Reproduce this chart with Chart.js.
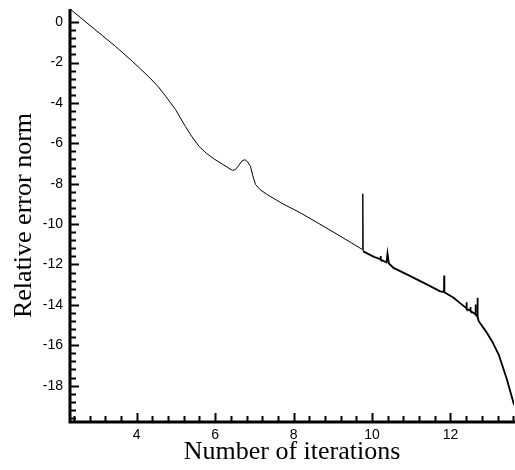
<!DOCTYPE html>
<html>
<head>
<meta charset="utf-8">
<script src="https://cdn.jsdelivr.net/npm/chart.js@4.4.1/dist/chart.umd.min.js"></script>
<style>
  body { margin: 0; background: #fff; }
  #wrap { width: 515px; height: 470px; position: relative; }
</style>
</head>
<body>
<div id="wrap"><canvas id="chart"></canvas></div>
<script>
// residual history
let iterations = [2.32, 3.04, 3.46, 3.89, 4.31, 4.55, 4.74, 4.99, 5.24, 5.40, 5.59, 5.78, 5.97, 6.20,
    6.44, 6.52, 6.60, 6.68, 6.76, 6.83, 6.90, 6.96, 7.03, 7.15, 7.33, 7.70, 8.18, 8.80, 9.45,
    9.755, 9.765, 9.775, 10.05, 10.215, 10.22, 10.225, 10.37, 10.395, 10.43, 10.55, 10.90, 11.32,
    11.74, 11.835, 11.84, 11.845, 12.08, 12.30, 12.405, 12.41, 12.415, 12.505, 12.51, 12.515,
    12.635, 12.64, 12.645, 12.685, 12.69, 12.695, 12.72, 12.90, 13.06, 13.23, 13.44, 13.62];
let errorNorm = [0.62, -0.53, -1.20, -1.94, -2.71, -3.20, -3.67, -4.33, -5.16, -5.65, -6.15, -6.50, -6.77, -7.05,
    -7.34, -7.30, -7.10, -6.88, -6.81, -6.92, -7.14, -7.60, -8.04, -8.30, -8.54, -8.97, -9.45, -10.15, -10.90,
    -11.26, -8.50, -11.35, -11.62, -11.74, -11.58, -11.76, -11.90, -11.45, -11.95, -12.17, -12.50, -12.91,
    -13.33, -13.36, -12.55, -13.38, -13.65, -14.00, -14.16, -13.87, -14.19, -14.29, -14.10, -14.31,
    -14.46, -13.98, -14.48, -14.56, -13.65, -14.60, -14.81, -15.30, -15.80, -16.46, -17.70, -18.94];
let xTicks = [4, 6, 8, 10, 12];
let yTicks = [0, -2, -4, -6, -8, -10, -12, -14, -16, -18];

let points = [];
for (let i = 0; i < iterations.length; i++)
    points.push({x: iterations[i], y: errorNorm[i]});

let X_MIN = 2.3, X_MAX = 13.62;
let Y_MIN = -19.8, Y_MAX = 0.65;

// axis frame with inward ticks, like the original plot
let frame = {
    id: 'frame',
    afterDatasetsDraw(chart) {
        let ctx = chart.ctx;
        let a = chart.chartArea;
        let xs = chart.scales.x, ys = chart.scales.y;
        ctx.save();
        ctx.strokeStyle = '#000';
        ctx.lineWidth = 2;
        ctx.beginPath();
        for (let v of xTicks) {
            let px = Math.round(xs.getPixelForValue(v)) + 0.5;
            ctx.moveTo(px, a.bottom); ctx.lineTo(px, a.bottom - 9);
        }
        for (let v of yTicks) {
            let py = Math.round(ys.getPixelForValue(v)) + 0.5;
            ctx.moveTo(a.left, py); ctx.lineTo(a.left + 9, py);
        }
        ctx.stroke();
        ctx.beginPath();
        for (let k = 6; k * 0.4 <= X_MAX; k++) {
            let v = k * 0.4;
            if (Math.abs(v / 2 - Math.round(v / 2)) < 0.01) continue;
            let px = Math.round(xs.getPixelForValue(v)) + 0.5;
            ctx.moveTo(px, a.bottom); ctx.lineTo(px, a.bottom - 6);
        }
        for (let k = 1; -k * 0.4 >= Y_MIN; k++) {
            let v = -k * 0.4;
            if (Math.abs(v / 2 - Math.round(v / 2)) < 0.01) continue;
            let py = Math.round(ys.getPixelForValue(v)) + 0.5;
            ctx.moveTo(a.left, py); ctx.lineTo(a.left + 6, py);
        }
        ctx.stroke();
        ctx.lineWidth = 3;
        ctx.beginPath();
        ctx.moveTo(a.left, a.top);
        ctx.lineTo(a.left, a.bottom);
        ctx.lineTo(a.right + 1, a.bottom);
        ctx.stroke();
        ctx.restore();
    }
};

let ctx = document.getElementById('chart').getContext('2d');
new Chart(ctx, {
    type: 'line',
    data: {
        datasets: [{
            data: points,
            borderColor: '#000',
            borderWidth: 1,
            pointRadius: 0,
            tension: 0,
            fill: false,
            segment: {
                borderWidth: c => c.p0.parsed.x >= 9.77 ? 1.8 : 1
            }
        }]
    },
    options: {
        responsive: true,
        maintainAspectRatio: false,
        animation: false,
        layout: { padding: { top: 9, right: 1, left: 0, bottom: 0 } },
        plugins: { legend: { display: false }, tooltip: { enabled: false } },
        scales: {
            x: {
                type: 'linear',
                min: X_MIN,
                max: X_MAX,
                afterBuildTicks: s => { s.ticks = xTicks.map(v => ({value: v})); },
                afterFit: s => { s.height = 48; s.paddingLeft = 0; s.paddingRight = 0; },
                grid: { display: false, drawTicks: false },
                border: { display: false },
                ticks: {
                    color: '#000',
                    padding: 5,
                    maxRotation: 0,
                    font: { family: 'Liberation Sans', size: 14 }
                },
                title: {
                    display: true,
                    text: 'Number of iterations',
                    color: '#000',
                    padding: { top: 0, bottom: 2 },
                    font: { family: 'Liberation Serif', size: 26 }
                }
            },
            y: {
                type: 'linear',
                min: Y_MIN,
                max: Y_MAX,
                afterBuildTicks: s => { s.ticks = yTicks.map(v => ({value: v})); },
                afterFit: s => { s.width = 70; s.paddingTop = 0; s.paddingBottom = 0; },
                grid: { display: false, drawTicks: false },
                border: { display: false },
                ticks: {
                    color: '#000',
                    padding: 7,
                    font: { family: 'Liberation Sans', size: 14 }
                },
                title: {
                    display: true,
                    text: 'Relative error norm',
                    color: '#000',
                    padding: { top: 9, bottom: 0 },
                    font: { family: 'Liberation Serif', size: 26 }
                }
            }
        }
    },
    plugins: [frame]
});
</script>
</body>
</html>
